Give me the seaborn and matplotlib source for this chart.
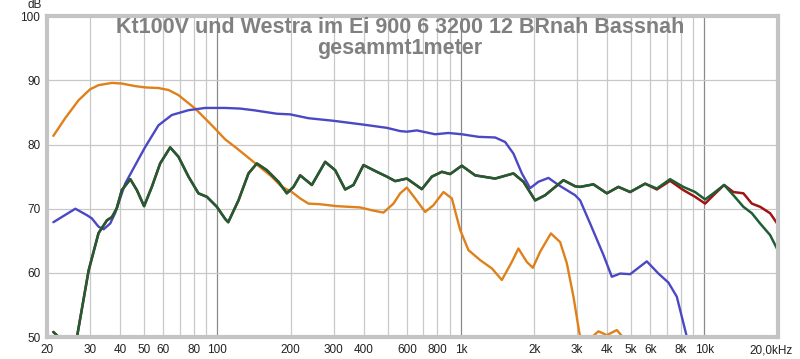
import pandas as pd
import seaborn as sns
import matplotlib.pyplot as plt
import matplotlib.transforms as mtransforms
from matplotlib.ticker import FixedLocator, NullFormatter

sns.set_style("white")
plt.rcParams['font.family'] = ['Liberation Sans', 'DejaVu Sans']

# Orange curve
orange_f = [21.2, 23.7, 26.9, 30.0, 32.5, 36.9, 40.5, 46.0, 50.5, 57.3, 63.0, 69.2, 81.1, 94.9,
            107.7, 120.3, 140.7, 164.8, 184.1, 202.3, 218.8, 236.7, 264.3, 309.5, 385.9,
            437.6, 481, 528.8, 563.4, 600.2, 649.2, 713.6, 771.8, 848.4, 918.5, 993.4,
            1074.6, 1199.8, 1341, 1474, 1619, 1724, 1867, 1976, 2117, 2343, 2558, 2725,
            2901, 3069, 3250, 3452, 3674, 3978, 4373, 4628, 4800]
orange_db = [81.35, 84.1, 86.9, 88.6, 89.25, 89.6, 89.5, 89.1, 88.9, 88.8, 88.5, 87.7, 85.6,
             83.0, 80.8, 79.4, 77.3, 75.2, 73.4, 72.6, 71.6, 70.8, 70.7, 70.4, 70.2, 69.7,
             69.4, 70.8, 72.4, 73.3, 71.6, 69.5, 70.55, 72.6, 71.6, 66.7, 63.55, 62.0, 60.7,
             58.9, 61.7, 63.8, 61.7, 60.8, 63.3, 66.15, 64.8, 61.5, 56.3, 50.6, 47.0, 50.0,
             50.9, 50.3, 51.1, 50.0, 48.0]

# Blue curve
blue_f = [21.2, 26.1, 29.1, 30.5, 32.5, 34.1, 36.3, 38.0, 41.8, 46.0, 50.5, 57.3, 65.0, 76.1,
          89.1, 107.7, 124.1, 140.7, 175.5, 199, 236.7, 299.8, 398.2, 496.8, 563, 600, 659.7,
          784, 889, 1009, 1181, 1383, 1520, 1644, 1781, 1926, 2083, 2290, 2517, 2948, 3090,
          3396, 3852, 4170, 4510, 4958, 5806, 6480, 7121, 7709, 8475, 9000]
blue_db = [67.9, 70.0, 69.0, 68.5, 67.2, 66.8, 67.7, 69.3, 73.9, 76.8, 79.6, 83.0, 84.6, 85.35,
           85.7, 85.7, 85.6, 85.35, 84.8, 84.7, 84.1, 83.7, 83.1, 82.6, 82.1, 82.0, 82.2, 81.6,
           81.8, 81.6, 81.2, 81.1, 80.4, 78.6, 75.5, 73.2, 74.2, 74.8, 73.7, 72.1, 71.3, 67.7,
           62.8, 59.4, 59.9, 59.8, 61.8, 59.9, 58.5, 56.3, 50.05, 48.0]

# Green curve
green_f = [21.2, 22.3, 24.5, 26.5, 29.6, 32.5, 35.2, 36.9, 38.6, 40.5, 43.9, 46.7, 50.0, 53.8,
           58.2, 64.0, 69.2, 76.1, 83.6, 90.6, 99.5, 107.7, 110.8, 122.1, 134.2, 145.3, 159.7,
           178.2, 192.9, 205.4, 218.8, 244.4, 277.2, 304.7, 334.9, 362.2, 398.2, 451.8, 496.8,
           537.4, 600.2, 691.5, 760.2, 835.6, 903.8, 1009, 1145, 1383, 1644, 1808, 2019, 2219,
           2638, 2948, 3090, 3504, 3978, 4438, 4958, 5715, 6382, 7235, 8205, 9168, 10078,
           10900, 12060, 13168, 14472, 15676, 16954, 18630, 20000]
green_db = [50.8, 50.0, 48.0, 50.0, 60.4, 66.2, 68.2, 68.7, 70.05, 72.9, 74.6, 72.9, 70.4, 73.4,
            77.05, 79.55, 78.1, 75.0, 72.4, 71.85, 70.3, 68.4, 67.9, 71.3, 75.5, 77.05, 76.0,
            74.2, 72.4, 73.4, 75.2, 73.7, 77.3, 76.0, 73.0, 73.7, 76.8, 75.75, 75.0, 74.3, 74.7,
            73.05, 75.0, 75.75, 75.4, 76.7, 75.2, 74.7, 75.5, 74.2, 71.3, 72.1, 74.45, 73.5,
            73.4, 73.8, 72.4, 73.4, 72.6, 73.9, 73.15, 74.6, 73.4, 72.6, 71.45, 72.4, 73.7,
            72.1, 70.3, 69.3, 67.7, 65.9, 63.6]

# Red curve: same as green below 6 kHz, then splits off
red_f = green_f[:60] + [6382, 7235, 8205, 9168, 10078, 10900, 12060, 13168, 14472, 15676,
                        16954, 18630, 20000]
red_db = green_db[:60] + [73.0, 74.35, 72.9, 71.85, 70.8, 72.1, 73.7, 72.6, 72.4, 70.8,
                          70.3, 69.3, 67.6]

df_orange = pd.DataFrame({'f': orange_f, 'dB': orange_db})
df_blue = pd.DataFrame({'f': blue_f, 'dB': blue_db})
df_green = pd.DataFrame({'f': green_f, 'dB': green_db})
df_red = pd.DataFrame({'f': red_f, 'dB': red_db})

fig = plt.figure(figsize=(8, 3.59), dpi=100)
ax = fig.add_axes([0.059, 0.061, 0.913, 0.894])
ax.set_xscale('log')

sns.lineplot(data=df_orange, x='f', y='dB', color='#e0801a', lw=1.7, sort=False, ax=ax)
sns.lineplot(data=df_blue, x='f', y='dB', color='#4b48c4', lw=1.7, sort=False, ax=ax)
sns.lineplot(data=df_red, x='f', y='dB', color='#a01414', lw=1.8, sort=False, ax=ax)
sns.lineplot(data=df_green, x='f', y='dB', color='#1d5e34', lw=1.8, sort=False, ax=ax)

ax.set_xlim(20, 20000)
ax.set_ylim(50, 100)

# grid
minor = [m * d for d in (10, 100, 1000) for m in range(2, 10)] + [20000]
for v in minor:
    ax.axvline(v, color='#c8c8c8', lw=0.9, zorder=0)
for v in (100, 1000, 10000):
    ax.axvline(v, color='#8a8a8a', lw=0.9, zorder=0)
for v in range(60, 100, 10):
    ax.axhline(v, color='#c8c8c8', lw=0.9, zorder=0)

xticks = [20, 30, 40, 50, 60, 80, 100, 200, 300, 400, 600, 800, 1000, 2000, 3000, 4000,
          5000, 6000, 8000, 10000, 20000]
xlabels = ['20', '30', '40', '50', '60', '80', '100', '200', '300', '400', '600', '800', '1k',
           '2k', '3k', '4k', '5k', '6k', '8k', '10k', '20,0kHz']
ax.xaxis.set_major_locator(FixedLocator(xticks))
ax.set_xticklabels(xlabels)
ax.xaxis.set_minor_formatter(NullFormatter())
ax.set_yticks([50, 60, 70, 80, 90, 100])
ax.tick_params(axis='both', which='both', length=0, labelsize=8.5, colors='#222222')
ax.tick_params(axis='x', pad=5)
ax.tick_params(axis='y', pad=5)
ax.set_xlabel('')
ax.set_ylabel('')

# shift the last label left so it fits
last = ax.get_xticklabels()[-1]
last.set_transform(last.get_transform() + mtransforms.ScaledTranslation(-7 / 100, 0, fig.dpi_scale_trans))

fig.text(42 / 800, 1 - 5 / 359, 'dB', ha='right', va='center', fontsize=8.5, color='#222222')

for s in ax.spines.values():
    s.set_color('#c4c4c4')
    s.set_linewidth(3)

fig.text(0.5, 0.954, 'Kt100V und Westra im Ei 900 6 3200 12 BRnah Bassnah\ngesammt1meter',
         ha='center', va='top', fontsize=15.5, fontweight='bold',
         color='#808080', linespacing=1.0)

fig.savefig('out.png', dpi=100)
